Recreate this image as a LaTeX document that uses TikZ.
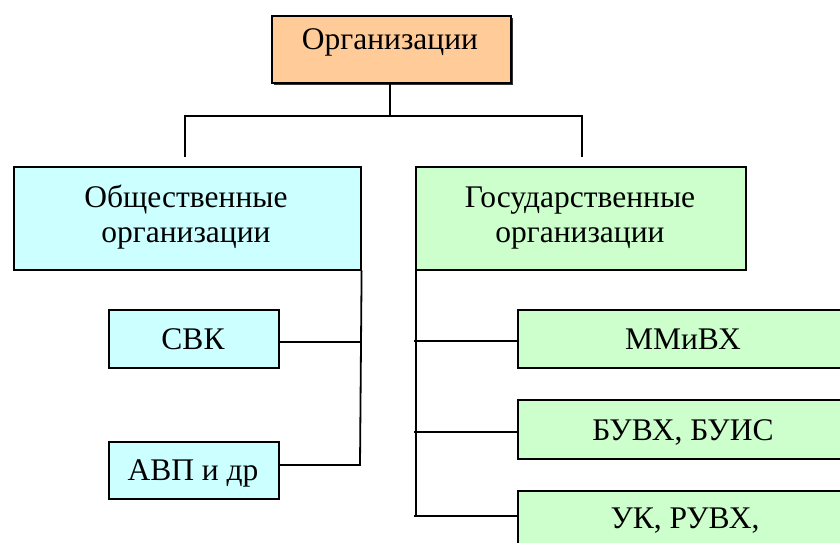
\documentclass[tikz,border=0pt]{standalone}
\usepackage{fontspec}
\setmainfont{Liberation Serif}
\begin{document}
\begin{tikzpicture}[x=1pt,y=-1pt,
  box/.style={draw=black, line width=1.6pt, inner sep=0pt, anchor=north west},
  lbl/.style={anchor=base, inner sep=0pt, font=\fontsize{31.5}{36}\selectfont},
  conn/.style={draw=black, line width=1.8pt}]
\useasboundingbox (0,0) rectangle (840,542);
\clip (0,0) rectangle (840,542);
\definecolor{orangef}{HTML}{FFCC99}
\definecolor{cyanf}{HTML}{CCFFFF}
\definecolor{greenf}{HTML}{CCFFCC}
% top box with shadow
\fill[black!80] (274,18) rectangle (513,85);
\node[box, fill=orangef, minimum width=239pt, minimum height=67pt] (top) at (271,15) {};
\node[lbl] (tt) at (390,49) {Организации};
% second level
\node[box, fill=cyanf, minimum width=347pt, minimum height=103pt] (lbox) at (13,166) {};
\node[lbl] (lt1) at (186,207) {Общественные};
\node[lbl] (lt2) at (186,242) {организации};
\node[box, fill=greenf, minimum width=330pt, minimum height=103pt] (rbox) at (415,166) {};
\node[lbl] (rt1) at (580,207) {Государственные};
\node[lbl] (rt2) at (580,242) {организации};
% left children
\node[box, fill=cyanf, minimum width=170pt, minimum height=58pt] (svk) at (108,309) {};
\node[lbl] (svkt) at (193,349) {СВК};
\node[box, fill=cyanf, minimum width=170pt, minimum height=57pt] (avp) at (108,441) {};
\node[lbl] (avpt) at (193,480) {АВП и др};
% right children
\node[box, fill=greenf, minimum width=340pt, minimum height=58pt] (mm) at (517,309) {};
\node[lbl] (mmt) at (683,349) {ММиВХ};
\node[box, fill=greenf, minimum width=340pt, minimum height=59pt] (bu) at (517,399) {};
\node[lbl] (but) at (683,440) {БУВХ, БУИС};
\node[box, fill=greenf, minimum width=340pt, minimum height=80pt] (uk) at (517,490) {};
\node[lbl] (ukt) at (685,528) {УК, РУВХ,};
% connectors
\coordinate (j0) at (390,116);
\coordinate (jl) at (185,116);
\coordinate (jr) at (582,116);
\coordinate (el) at (185,157);
\coordinate (er) at (582,157);
\draw[conn] (top.south -| j0) -- (j0);
\draw[conn] (el) -- (jl) -- (jr) -- (er);
% left branch
\coordinate (lv) at (360,465);
\coordinate (ls) at (360,342);
\draw[conn] (lbox.south east) -- (lv) -- (avp.east |- lv);
\draw[conn] (svk.east |- ls) -- (ls);
% right branch
\coordinate (rv) at (416,516);
\coordinate (rm) at (414,341);
\coordinate (rb) at (414,432);
\draw[conn] (rbox.south west -| rv) -- (rv);
\draw[conn] (414,516) -- (uk.west |- rv);
\draw[conn] (mm.west |- rm) -- (rm);
\draw[conn] (bu.west |- rb) -- (rb);
\end{tikzpicture}
\end{document}
